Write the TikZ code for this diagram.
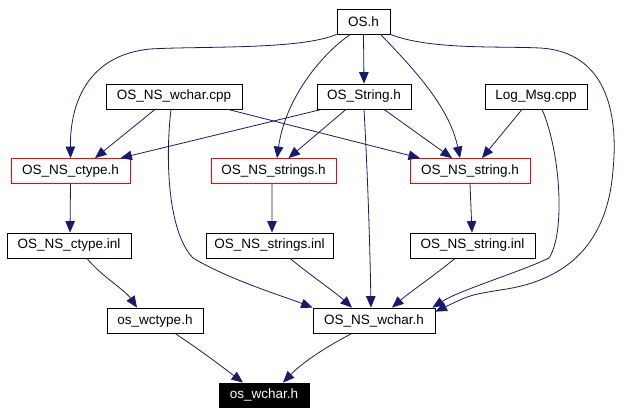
\documentclass[tikz,border=0pt]{standalone}
\usepackage{fontspec}
\setmainfont{Liberation Sans}
\usetikzlibrary{arrows.meta}
\definecolor{edgeblue}{HTML}{191970}
\begin{document}
\begin{tikzpicture}[x=1bp,y=-1bp,
  box/.style={draw=black,line width=0.8bp,inner sep=0pt,minimum height=25bp,font=\fontsize{13.5bp}{16bp}\selectfont,text=black},
  redbox/.style={box,draw=red},
  blackbox/.style={box,fill=black,text=white,minimum height=24bp},
  dep/.style={draw=edgeblue,line width=0.8bp,-{Triangle[length=11.5bp,width=9.5bp]},fill=none},
]
\useasboundingbox (0,0) rectangle (644,415);
\fill[white] (0,0) rectangle (644,415);
% nodes
\node[box,minimum width=53bp]  (oh)   at (363.5,21.5) {OS.h};
\node[box,minimum width=94bp]  (ostr) at (364,96.5)   {OS\_String.h};
\node[box,minimum width=102bp] (log)  at (536,96.5)   {Log\_Msg.cpp};
\node[box,minimum width=136bp] (wcpp) at (174,96.5)   {OS\_NS\_wchar.cpp};
\node[redbox,minimum width=119bp] (cth) at (70.5,171) {OS\_NS\_ctype.h};
\node[redbox,minimum width=125bp] (ssh) at (273.5,171) {OS\_NS\_strings.h};
\node[redbox,minimum width=120bp] (sh)  at (470,171)  {OS\_NS\_string.h};
\node[box,minimum width=124bp] (cti)  at (69,245.5)   {OS\_NS\_ctype.inl};
\node[box,minimum width=127bp] (ssi)  at (269.5,245.5) {OS\_NS\_strings.inl};
\node[box,minimum width=125bp] (si)   at (472.5,245.5) {OS\_NS\_string.inl};
\node[box,minimum width=96bp]  (wct)  at (155,320.5)  {os\_wctype.h};
\node[box,minimum width=122bp] (wh)   at (374,320.5)  {OS\_NS\_wchar.h};
\node[blackbox,minimum width=90bp] (owh) at (264,395) {os\_wchar.h};
% edges from OS.h
\draw[dep] (oh.south) -- (ostr.north);
\draw[dep] (oh.south west) .. controls (300,50) and (200,46) .. (150,49)
  .. controls (90,55) and (70,100) .. (cth.north);
\draw[dep] ([xshift=-13bp]oh.south) .. controls (320,55) and (285,100) .. ([xshift=3.5bp]ssh.north);
\draw[dep] ([xshift=17bp]oh.south) .. controls (420,75) and (450,110) .. ([xshift=-10bp]sh.north);
\draw[dep] (oh.south east) .. controls (430,50) and (500,46) .. (540,48)
  .. controls (610,52) and (618,120) .. (613,170)
  .. controls (607,250) and (560,282) .. (500,290)
  .. controls (470,295) .. ([yshift=-4bp]wh.north east);
% edges from OS_NS_wchar.cpp
\draw[dep] ([xshift=-19bp]wcpp.south) -- ([xshift=24.5bp]cth.north);
\draw[dep] ([xshift=54bp]wcpp.south) -- ([xshift=-50bp]sh.north);
\draw[dep] ([xshift=-3bp]wcpp.south) .. controls (165,160) and (168,232) .. (193,258)
  .. controls (230,280) and (280,295) .. (wh.north west);
% edges from OS_String.h
\draw[dep] ([xshift=5bp]ostr.south west) -- ([xshift=-10bp]cth.north east);
\draw[dep] ([xshift=-18bp]ostr.south) -- ([xshift=15bp]ssh.north);
\draw[dep] ([xshift=20bp]ostr.south) -- ([xshift=-18bp]sh.north);
\draw[dep] (ostr.south) .. controls (368,180) and (370,250) .. ([xshift=-3bp]wh.north);
% edges from Log_Msg.cpp
\draw[dep] ([xshift=-14bp]log.south) -- ([xshift=12bp]sh.north);
\draw[dep] ([xshift=6bp]log.south) .. controls (560,150) and (566,232) .. (549,258)
  .. controls (520,272) and (460,290) .. ([xshift=-3bp]wh.north east);
% lower edges
\draw[dep] (cth.south) -- ([xshift=1bp]cti.north);
\draw[dep] ([xshift=-1.5bp]ssh.south) -- ([xshift=2.5bp]ssi.north);
\draw[dep] (sh.south) -- ([xshift=-0.5bp]si.north);
\draw[dep] ([xshift=18bp]cti.south) .. controls (100,275) and (125,290) .. ([xshift=-18bp]wct.north);
\draw[dep] ([xshift=20.5bp]ssi.south) .. controls (310,275) and (335,292) .. ([xshift=-22bp]wh.north);
\draw[dep] ([xshift=-17.5bp]si.south) .. controls (435,275) and (410,292) .. ([xshift=18bp]wh.north);
\draw[dep] ([xshift=20bp]wct.south) .. controls (200,350) and (220,365) .. ([xshift=-21bp]owh.north);
\draw[dep] ([xshift=-22bp]wh.south) .. controls (320,350) and (300,365) .. ([xshift=19bp]owh.north);
\end{tikzpicture}
\end{document}
